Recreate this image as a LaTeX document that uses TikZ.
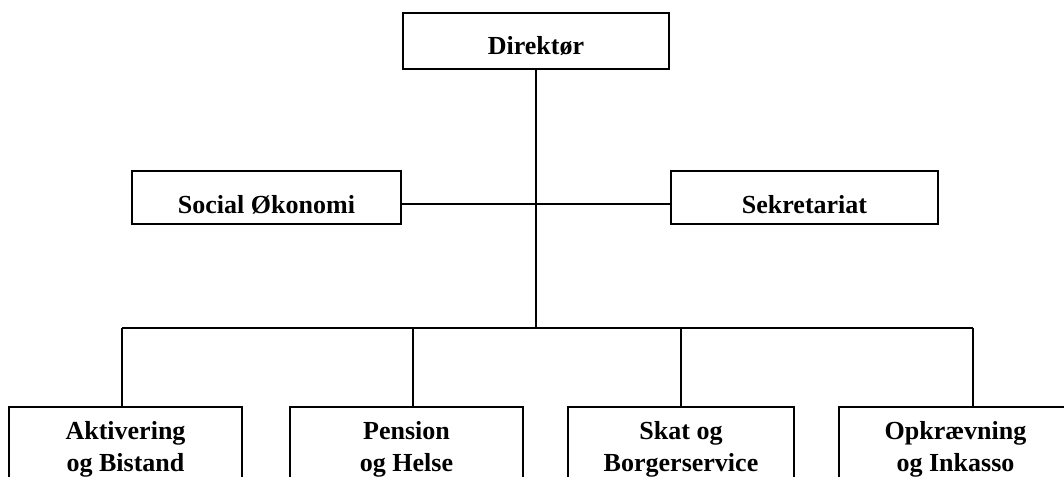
\documentclass[tikz,border=0pt]{standalone}
\usepackage{fontspec}
\setmainfont{Liberation Serif}
\usetikzlibrary{positioning,calc}

\newcommand{\orgfont}{\fontsize{18.5}{22.7}\selectfont\bfseries}

\begin{document}
\begin{tikzpicture}[
    x=0.025cm, y=-0.025cm,
    link/.style={draw=black, line width=1.3pt},
    headbox/.style={
      draw=black, line width=1.3pt, fill=white,
      font=\orgfont, inner sep=0pt,
      minimum width=#1, minimum height=1.325cm,
      text height=0.775cm, text depth=0pt
    },
    deptbox/.style={
      draw=black, line width=1.3pt, fill=white,
      font=\orgfont, align=center, anchor=north,
      inner xsep=0pt, inner ysep=0.36cm, minimum width=#1
    },
  ]

  % =================== Frame ===================
  \clip (0,0) rectangle (1064,477);

  % =================== Top level ===================
  \node[headbox=6.65cm, minimum height=1.4cm, text height=0.7cm] (dir) at (536,41) {Direktør};

  % =================== Staff level ===================
  \node[headbox=6.725cm] (soc) at (266.5,197.5) {Social Økonomi};
  \node[headbox=6.675cm] (sek) at (804.5,197.5) {Sekretariat};

  \coordinate (hub) at (536,204);
  \coordinate (bus) at (536,328);

  % =================== Departments ===================
  \node[deptbox=5.825cm] (akt) at (125.5,406) {Aktivering\\og Bistand};
  \node[deptbox=5.825cm] (pen) at (406.5,406) {Pension\\og Helse};
  \node[deptbox=5.65cm]  (skat) at (681,406) {Skat og\\Borgerservice};
  \node[deptbox=5.825cm] (opk) at (955.5,406) {Opkrævning\\og Inkasso};

  % Bus ends
  \coordinate (b1) at (122,328);
  \coordinate (b2) at (413,328);
  \coordinate (b3) at (681,328);
  \coordinate (b4) at (973,328);

  % =================== Connectors ===================
  \draw[link] (dir.south) -- (dir.south |- bus);
  \draw[link] (soc.east |- hub) -- (sek.west |- hub);
  \draw[link] (b1) -- (b4);
  \foreach \b/\n in {b1/akt, b2/pen, b3/skat, b4/opk}
    \draw[link] (\b) -- (\b |- \n.north);

\end{tikzpicture}
\end{document}
